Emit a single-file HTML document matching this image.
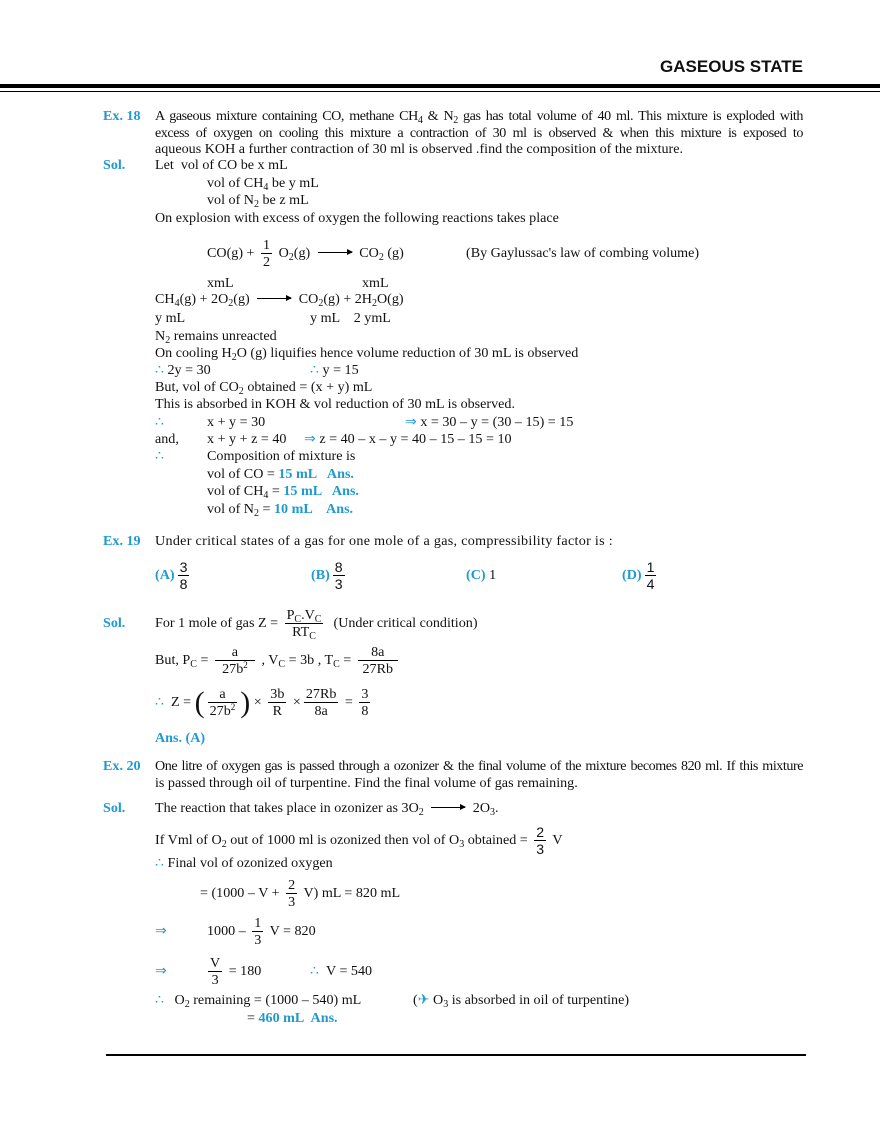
<!DOCTYPE html>
<html><head><meta charset="utf-8"><style>
body{margin:0;width:880px;height:1139px;background:#fff;position:relative;font-family:"Liberation Serif",serif;font-size:14.1px;color:#111;overflow:hidden}
.l{position:absolute;white-space:nowrap;line-height:18px;letter-spacing:0}
.b{color:#1e9ad0;font-weight:bold}
.j{text-align:justify;text-align-last:justify;width:648px;white-space:normal;letter-spacing:-0.45px;height:18px;overflow:hidden}
sub{font-size:10px;vertical-align:-3px;line-height:0}
sup{font-size:9px;vertical-align:5px;line-height:0}
.f{display:inline-block;vertical-align:middle;text-align:center;margin:0 3px}
.f>span{display:block;line-height:16px;padding:0 2px}
.f>span:first-child{border-bottom:1px solid #000}
.s{font-family:"Liberation Sans",sans-serif}
.ar{display:inline-block;width:34px;border-top:1px solid #000;vertical-align:4px;position:relative;margin:0 4px}
.ar:after{content:"";position:absolute;right:-1px;top:-4px;border-left:6px solid #000;border-top:3.5px solid transparent;border-bottom:3.5px solid transparent}
.bt{color:#1e9ad0}
</style></head><body>
<div class="l s" style="right:77px;top:58px;font-size:17px;font-weight:bold;letter-spacing:0">GASEOUS STATE</div>
<div style="position:absolute;left:0;top:84px;width:880px;height:4px;background:#000"></div>
<div style="position:absolute;left:0;top:91px;width:880px;height:1px;background:#000"></div>

<div class="l b" style="left:103px;top:107px">Ex. 18</div>
<div class="l j" style="left:155px;top:107px">A gaseous mixture containing CO, methane CH<sub>4</sub> &amp; N<sub>2</sub> gas has total volume of 40 ml. This mixture is exploded with</div>
<div class="l j" style="left:155px;top:124px">excess of oxygen on cooling this mixture a contraction of 30 ml is observed &amp; when this mixture is exposed to</div>
<div class="l" style="left:155px;top:140px">aqueous KOH a further contraction of 30 ml is observed .find the composition of the mixture.</div>
<div class="l b" style="left:103px;top:156px">Sol.</div>
<div class="l" style="left:155px;top:156px">Let &nbsp;vol of CO be x mL</div>
<div class="l" style="left:207px;top:174px">vol of CH<sub>4</sub> be y mL</div>
<div class="l" style="left:207px;top:191px">vol of N<sub>2</sub> be z mL</div>
<div class="l" style="left:155px;top:209px">On explosion with excess of oxygen the following reactions takes place</div>
<div class="l" style="left:207px;top:236px;line-height:34px">CO(g) + <span class="f"><span>1</span><span>2</span></span> O<sub>2</sub>(g) <span class="ar"></span> CO<sub>2</sub> (g)</div>
<div class="l" style="left:466px;top:244px">(By Gaylussac's law of combing volume)</div>
<div class="l" style="left:207px;top:274px">xmL</div>
<div class="l" style="left:362px;top:274px">xmL</div>
<div class="l" style="left:155px;top:290px">CH<sub>4</sub>(g) + 2O<sub>2</sub>(g) <span class="ar"></span> CO<sub>2</sub>(g) + 2H<sub>2</sub>O(g)</div>
<div class="l" style="left:155px;top:309px">y mL</div>
<div class="l" style="left:310px;top:309px">y mL &nbsp;&nbsp;&nbsp;2 ymL</div>
<div class="l" style="left:155px;top:327px">N<sub>2</sub> remains unreacted</div>
<div class="l" style="left:155px;top:344px">On cooling H<sub>2</sub>O (g) liquifies hence volume reduction of 30 mL is observed</div>
<div class="l" style="left:155px;top:361px"><span class="bt">∴</span> 2y = 30</div>
<div class="l" style="left:310px;top:361px"><span class="bt">∴</span> y = 15</div>
<div class="l" style="left:155px;top:378px">But, vol of CO<sub>2</sub> obtained = (x + y) mL</div>
<div class="l" style="left:155px;top:395px">This is absorbed in KOH &amp; vol reduction of 30 mL is observed.</div>
<div class="l" style="left:155px;top:413px"><span class="bt">∴</span></div>
<div class="l" style="left:207px;top:413px">x + y = 30</div>
<div class="l" style="left:405px;top:413px"><span class="bt">⇒</span> x = 30 – y = (30 – 15) = 15</div>
<div class="l" style="left:155px;top:430px">and,</div>
<div class="l" style="left:207px;top:430px">x + y + z = 40 &nbsp;&nbsp;&nbsp;&nbsp;<span class="bt">⇒</span> z = 40 – x – y = 40 – 15 – 15 = 10</div>
<div class="l" style="left:155px;top:447px"><span class="bt">∴</span></div>
<div class="l" style="left:207px;top:447px">Composition of mixture is</div>
<div class="l" style="left:207px;top:465px">vol of CO = <span class="b">15 mL &nbsp;&nbsp;Ans.</span></div>
<div class="l" style="left:207px;top:482px">vol of CH<sub>4</sub> = <span class="b">15 mL &nbsp;&nbsp;Ans.</span></div>
<div class="l" style="left:207px;top:500px">vol of N<sub>2</sub> = <span class="b">10 mL &nbsp;&nbsp;&nbsp;Ans.</span></div>

<div class="l b" style="left:103px;top:532px">Ex. 19</div>
<div class="l" style="left:155px;top:532px;letter-spacing:0.3px">Under critical states of a gas for one mole of a gas, compressibility factor is :</div>
<div class="l" style="left:155px;top:558px;line-height:34px"><span class="b">(A)</span><span class="f s"><span>3</span><span>8</span></span></div>
<div class="l" style="left:311px;top:558px;line-height:34px"><span class="b">(B)</span><span class="f s"><span>8</span><span>3</span></span></div>
<div class="l" style="left:466px;top:566px"><span class="b">(C)</span> 1</div>
<div class="l" style="left:622px;top:558px;line-height:34px"><span class="b">(D)</span><span class="f s"><span>1</span><span>4</span></span></div>

<div class="l b" style="left:103px;top:614px">Sol.</div>
<div class="l" style="left:155px;top:606px;line-height:34px">For 1 mole of gas Z = <span class="f"><span>P<sub>C</sub>.V<sub>C</sub></span><span>RT<sub>C</sub></span></span> &nbsp;(Under critical condition)</div>
<div class="l" style="left:155px;top:643px;line-height:34px">But, P<sub>C</sub> = <span class="f" style="width:40px"><span>a</span><span>27b<sup>2</sup></span></span> , V<sub>C</sub> = 3b , T<sub>C</sub> = <span class="f" style="width:40px"><span>8a</span><span>27Rb</span></span></div>
<div class="l" style="left:155px;top:685px;line-height:34px"><span class="bt">∴</span> &nbsp;Z = <span style="font-size:30px;vertical-align:middle;font-weight:100">(</span><span class="f"><span>a</span><span>27b<sup>2</sup></span></span><span style="font-size:30px;vertical-align:middle">)</span> × <span class="f"><span>3b</span><span>R</span></span> ×<span class="f"><span>27Rb</span><span>8a</span></span> = <span class="f"><span>3</span><span>8</span></span></div>
<div class="l b" style="left:155px;top:729px">Ans. (A)</div>

<div class="l b" style="left:103px;top:757px">Ex. 20</div>
<div class="l j" style="left:155px;top:757px">One litre of oxygen gas is passed through a ozonizer &amp; the final volume of the mixture becomes 820 ml. If this mixture</div>
<div class="l" style="left:155px;top:774px">is passed through oil of turpentine. Find the final volume of gas remaining.</div>
<div class="l b" style="left:103px;top:799px">Sol.</div>
<div class="l" style="left:155px;top:799px">The reaction that takes place in ozonizer as 3O<sub>2</sub> <span class="ar"></span> 2O<sub>3</sub>.</div>
<div class="l" style="left:155px;top:823px;line-height:34px">If Vml of O<sub>2</sub> out of 1000 ml is ozonized then vol of O<sub>3</sub> obtained = <span class="f s"><span>2</span><span>3</span></span> V</div>
<div class="l" style="left:155px;top:854px"><span class="bt">∴</span> Final vol of ozonized oxygen</div>
<div class="l" style="left:200px;top:876px;line-height:34px">= (1000 – V + <span class="f"><span>2</span><span>3</span></span> V) mL = 820 mL</div>
<div class="l" style="left:155px;top:914px;line-height:34px"><span class="bt">⇒</span></div>
<div class="l" style="left:207px;top:914px;line-height:34px">1000 – <span class="f"><span>1</span><span>3</span></span> V = 820</div>
<div class="l" style="left:155px;top:954px;line-height:34px"><span class="bt">⇒</span></div>
<div class="l" style="left:205px;top:954px;line-height:34px"><span class="f"><span>V</span><span>3</span></span> = 180</div>
<div class="l" style="left:310px;top:962px"><span class="bt">∴</span> &nbsp;V = 540</div>
<div class="l" style="left:155px;top:991px"><span class="bt">∴</span> &nbsp;&nbsp;O<sub>2</sub> remaining = (1000 – 540) mL</div>
<div class="l" style="left:413px;top:991px">(<span class="bt">✈</span> O<sub>3</sub> is absorbed in oil of turpentine)</div>
<div class="l" style="left:247px;top:1009px">= <span class="b">460 mL &nbsp;Ans.</span></div>

<div style="position:absolute;left:106px;top:1054px;width:700px;height:2px;background:#000"></div>
</body></html>
